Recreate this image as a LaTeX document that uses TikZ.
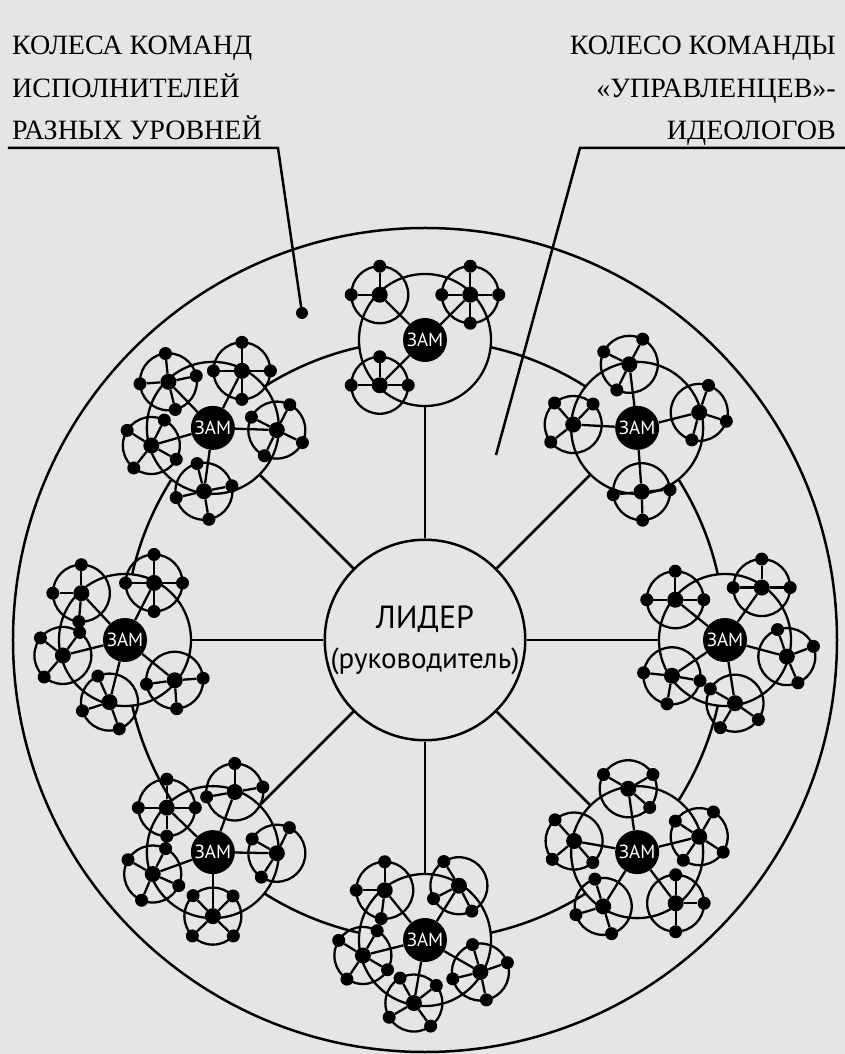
\documentclass[tikz,border=0pt]{standalone}
\usepackage{fontspec}
\setmainfont{Liberation Serif}
\newfontfamily\sansfont{PT Sans}
\definecolor{paper}{gray}{0.9}

\tikzset{
    ring/.style={draw, line width=2.5pt},
    pointer/.style={draw, line width=2.5pt},
    pdot/.style={circle, fill=black, minimum size=12pt, inner sep=0pt},
    hdr/.style={inner sep=0pt, font=\fontsize{28}{42.5}\selectfont},
    lider/.style={draw, circle, line width=2.5pt, fill=paper, minimum size=196pt, inner sep=0pt, align=center, font=\sansfont\fontsize{29}{40}\selectfont},
    teamc/.style={draw, circle, line width=2.3pt, fill=paper, minimum size=132pt, inner sep=0pt},
    zam/.style={circle, fill=black, text=white, minimum size=44pt, inner sep=0pt, font=\sansfont\fontsize{19}{19}\selectfont},
    wheelc/.style={draw, circle, line width=2.3pt, minimum size=57pt, inner sep=0pt, outer sep=0pt},
    hub/.style={circle, fill=black, minimum size=16pt, inner sep=0pt},
    rimdot/.style={circle, fill=black, minimum size=13pt, inner sep=0pt},
    link/.style={line width=2.3pt}
}

% small team: #1 deputy, #2 number, #3 direction, #4 member directions (a macro)
\newcommand{\wheel}[4]{%
    \node[wheelc] (#1-#2) at ([shift={(#3:64)}]#1) {};
    \node[hub] (#1-#2h) at ([shift={(#3:64)}]#1) {};
    \draw[link] (#1) -- (#1-#2h);
    \foreach \m [count=\j] in #4 {
        \node[rimdot] (#1-#2-\j) at ([shift={(#3:64)}, shift={(\m:28.5)}]#1) {};
        \draw[link] (#1-#2h) -- (#1-#2-\j);
    }
}

\begin{document}
\begin{tikzpicture}[x=1pt, y=1pt]
    % Page
    \fill[paper] (-425,-414) rectangle (420,640);
    \useasboundingbox (-425,-414) rectangle (420,640);

    % Headings
    \node[hdr, anchor=north west, align=left] (lhead) at (-413,604) {КОЛЕСА КОМАНД\\ИСПОЛНИТЕЛЕЙ\\РАЗНЫХ УРОВНЕЙ};
    \node[hdr, anchor=north east, align=right] (rhead) at (411,604) {КОЛЕСО КОМАНДЫ\\«УПРАВЛЕНЦЕВ»-\\ИДЕОЛОГОВ};

    % Wheels
    \draw[ring] (0,0) circle (412);
    \draw[ring] (0,0) circle (300);
    \node[lider] (lider) at (0,0) {{\fontsize{32}{40}\selectfont ЛИДЕР}\\(руководитель)};

    % Deputies
    \foreach \k in {1,...,8} {
        \node[teamc] (t\k) at ({135-45*\k}:300) {};
        \draw[ring] (lider) -- (t\k);
        \node[zam] (z\k) at (t\k) {ЗАМ};
    }

    % Small teams
    \foreach \w/\rl [count=\i] in {135/{90,180}, 45/{90,180,0,270}, 225/{90,180,0}}
        {\wheel{z1}{\i}{\w}{\rl}}
    \foreach \w/\rl [count=\i] in {97/{154,62,244}, 14/{71,342,255}, 177/{131,46,218}, 274/{186,4,272}}
        {\wheel{z2}{\i}{\w}{\rl}}
    \foreach \w/\rl [count=\i] in {141/{90,180,0}, 55/{180,0,90}, 345/{109,21,293}, 214/{174,350,260}, 279/{150,325,239}}
        {\wheel{z3}{\i}{\w}{\rl}}
    \foreach \w/\rl [count=\i] in {98/{150,30,319}, 170/{132,220,311}, 14/{147,60,327,236}, 238/{107,197,287}, 307/{90,0,270}}
        {\wheel{z4}{\i}{\w}{\rl}}
    \foreach \w/\rl [count=\i] in {129/{90,180,263}, 58/{122,207,297}, 194/{148,60,330,236}, 330/{106,19,282,194}, 260/{119,38,210,306}}
        {\wheel{z5}{\i}{\w}{\rl}}
    \foreach \w/\rl [count=\i] in {136/{90,180,0,270}, 70/{190,90,10}, 359/{150,64,237}, 200/{150,63,336,247}, 270/{134,45,224,316}}
        {\wheel{z6}{\i}{\w}{\rl}}
    \foreach \w/\rl [count=\i] in {133/{90,180,265}, 63/{90,180,0,270}, 194/{142,54,229}, 321/{188,4,274}, 256/{114,198,290}}
        {\wheel{z7}{\i}{\w}{\rl}}
    \foreach \w/\rl [count=\i] in {134/{96,184,12,284}, 63/{90,180,0,270}, 196/{148,63,331,232}, 358/{153,63,334,244}, 262/{104,11,193,280}}
        {\wheel{z8}{\i}{\w}{\rl}}

    % Pointers
    \coordinate (lstart) at (-417,492);
    \coordinate (lbend) at (-147,492);
    \node[pdot] (ldot) at (-123,327) {};
    \draw[pointer] (lstart) -- (lbend) -- (ldot);
    \coordinate (rstart) at (420,492);
    \coordinate (rbend) at (155,492);
    \coordinate (rend) at (71,185);
    \draw[pointer] (rstart) -- (rbend) -- (rend);
\end{tikzpicture}
\end{document}
